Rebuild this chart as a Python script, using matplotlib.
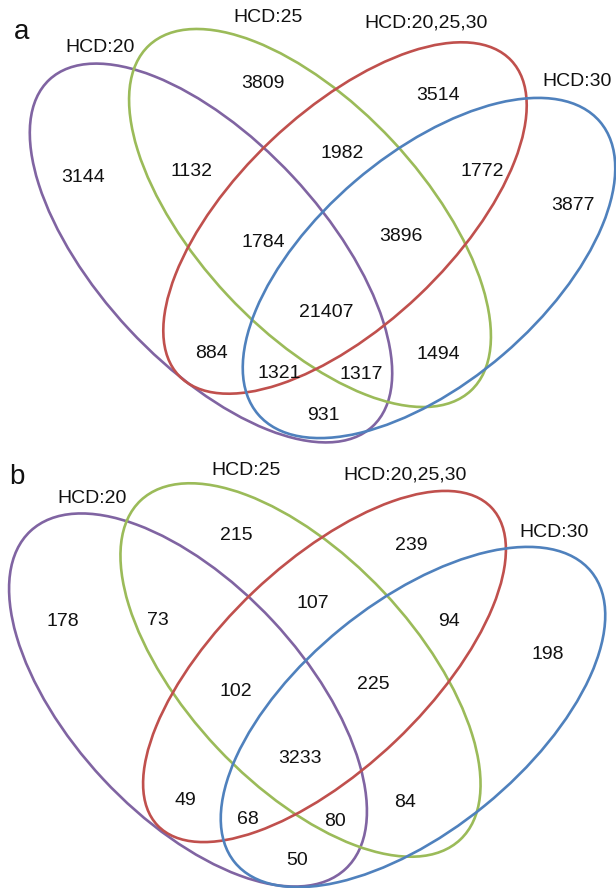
import matplotlib
matplotlib.use("Agg")
import matplotlib.pyplot as plt
from matplotlib.patches import Ellipse

# ---------------- data ----------------
set_labels = ["HCD:20", "HCD:25", "HCD:20,25,30", "HCD:30"]
set_colors = ["#8064A2", "#9BBB59", "#C0504D", "#4F81BD"]

# region membership codes (HCD:20, HCD:25, HCD:20,25,30, HCD:30)
regions = ["1000", "0100", "0010", "0001",
           "1100", "0110", "0011",
           "1110", "0111", "1111",
           "1010", "0101", "1011", "1101", "1001"]

counts_a = [3144, 3809, 3514, 3877,
            1132, 1982, 1772,
            1784, 3896, 21407,
            884, 1494, 1321, 1317, 931]

counts_b = [178, 215, 239, 198,
            73, 107, 94,
            102, 225, 3233,
            49, 84, 68, 80, 50]

panel_letters = ["a", "b"]

# ---------------- layout (pixel coords) ----------------
# ellipse: cx, cy, semi-major, semi-minor, tilt (deg, + = down-right)
geom_a = [(211, 253, 237, 112, 47.0),
          (310, 218, 236, 113, 47.0),
          (345, 218, 229, 107, -43.5),
          (429, 268, 225, 114, -40.6)]
geom_b = [(188, 700, 231, 116, 47.0),
          (300.5, 670, 233, 114, 46.7),
          (324.5, 666.5, 230.5, 103, -43.6),
          (413, 717, 230, 114, -39.2)]

text_pos_a = [(83, 177), (263, 83), (438, 95), (573, 205),
              (191, 171), (342, 153), (482, 171),
              (263, 242), (401, 236), (326, 312),
              (212, 353), (438, 354), (279, 373), (361, 374), (323, 415)]
text_pos_b = [(63, 621), (236, 535), (411, 545), (548, 654),
              (158, 620), (313, 603), (449, 621),
              (236, 691), (373, 684), (300, 758),
              (185, 800), (405, 802), (248, 819), (335, 821), (297, 860)]

label_pos_a = [(100, 48), (268, 18), (426, 23), (577, 82)]
label_pos_b = [(92, 498), (246, 470), (405, 475), (554, 532)]
letter_pos = [(22, 32), (17, 477)]

FAM = ["Liberation Sans", "DejaVu Sans"]

fig = plt.figure(figsize=(6.16, 8.88), dpi=100)
ax = fig.add_axes([0, 0, 1, 1])
ax.set_xlim(0, 616)
ax.set_ylim(888, 0)
ax.axis("off")

panels = [(geom_a, counts_a, text_pos_a, label_pos_a),
          (geom_b, counts_b, text_pos_b, label_pos_b)]

for p, (geom, counts, tpos, lpos) in enumerate(panels):
    for (cx, cy, a, b, ang), col in zip(geom, set_colors):
        ax.add_patch(Ellipse((cx, cy), 2 * a, 2 * b, angle=ang,
                             fill=False, edgecolor=col, linewidth=1.9))
    for val, (x, y) in zip(counts, tpos):
        ax.text(x, y, str(val), ha="center", va="center",
                fontsize=14, family=FAM, color="#111111")
    for lab, (x, y) in zip(set_labels, lpos):
        ax.text(x, y, lab, ha="center", va="center",
                fontsize=14, family=FAM, color="#111111")
    lx, ly = letter_pos[p]
    ax.text(lx, ly, panel_letters[p], ha="center", va="center",
            fontsize=20, family=FAM, color="#111111")

fig.savefig("out.png", dpi=100)
